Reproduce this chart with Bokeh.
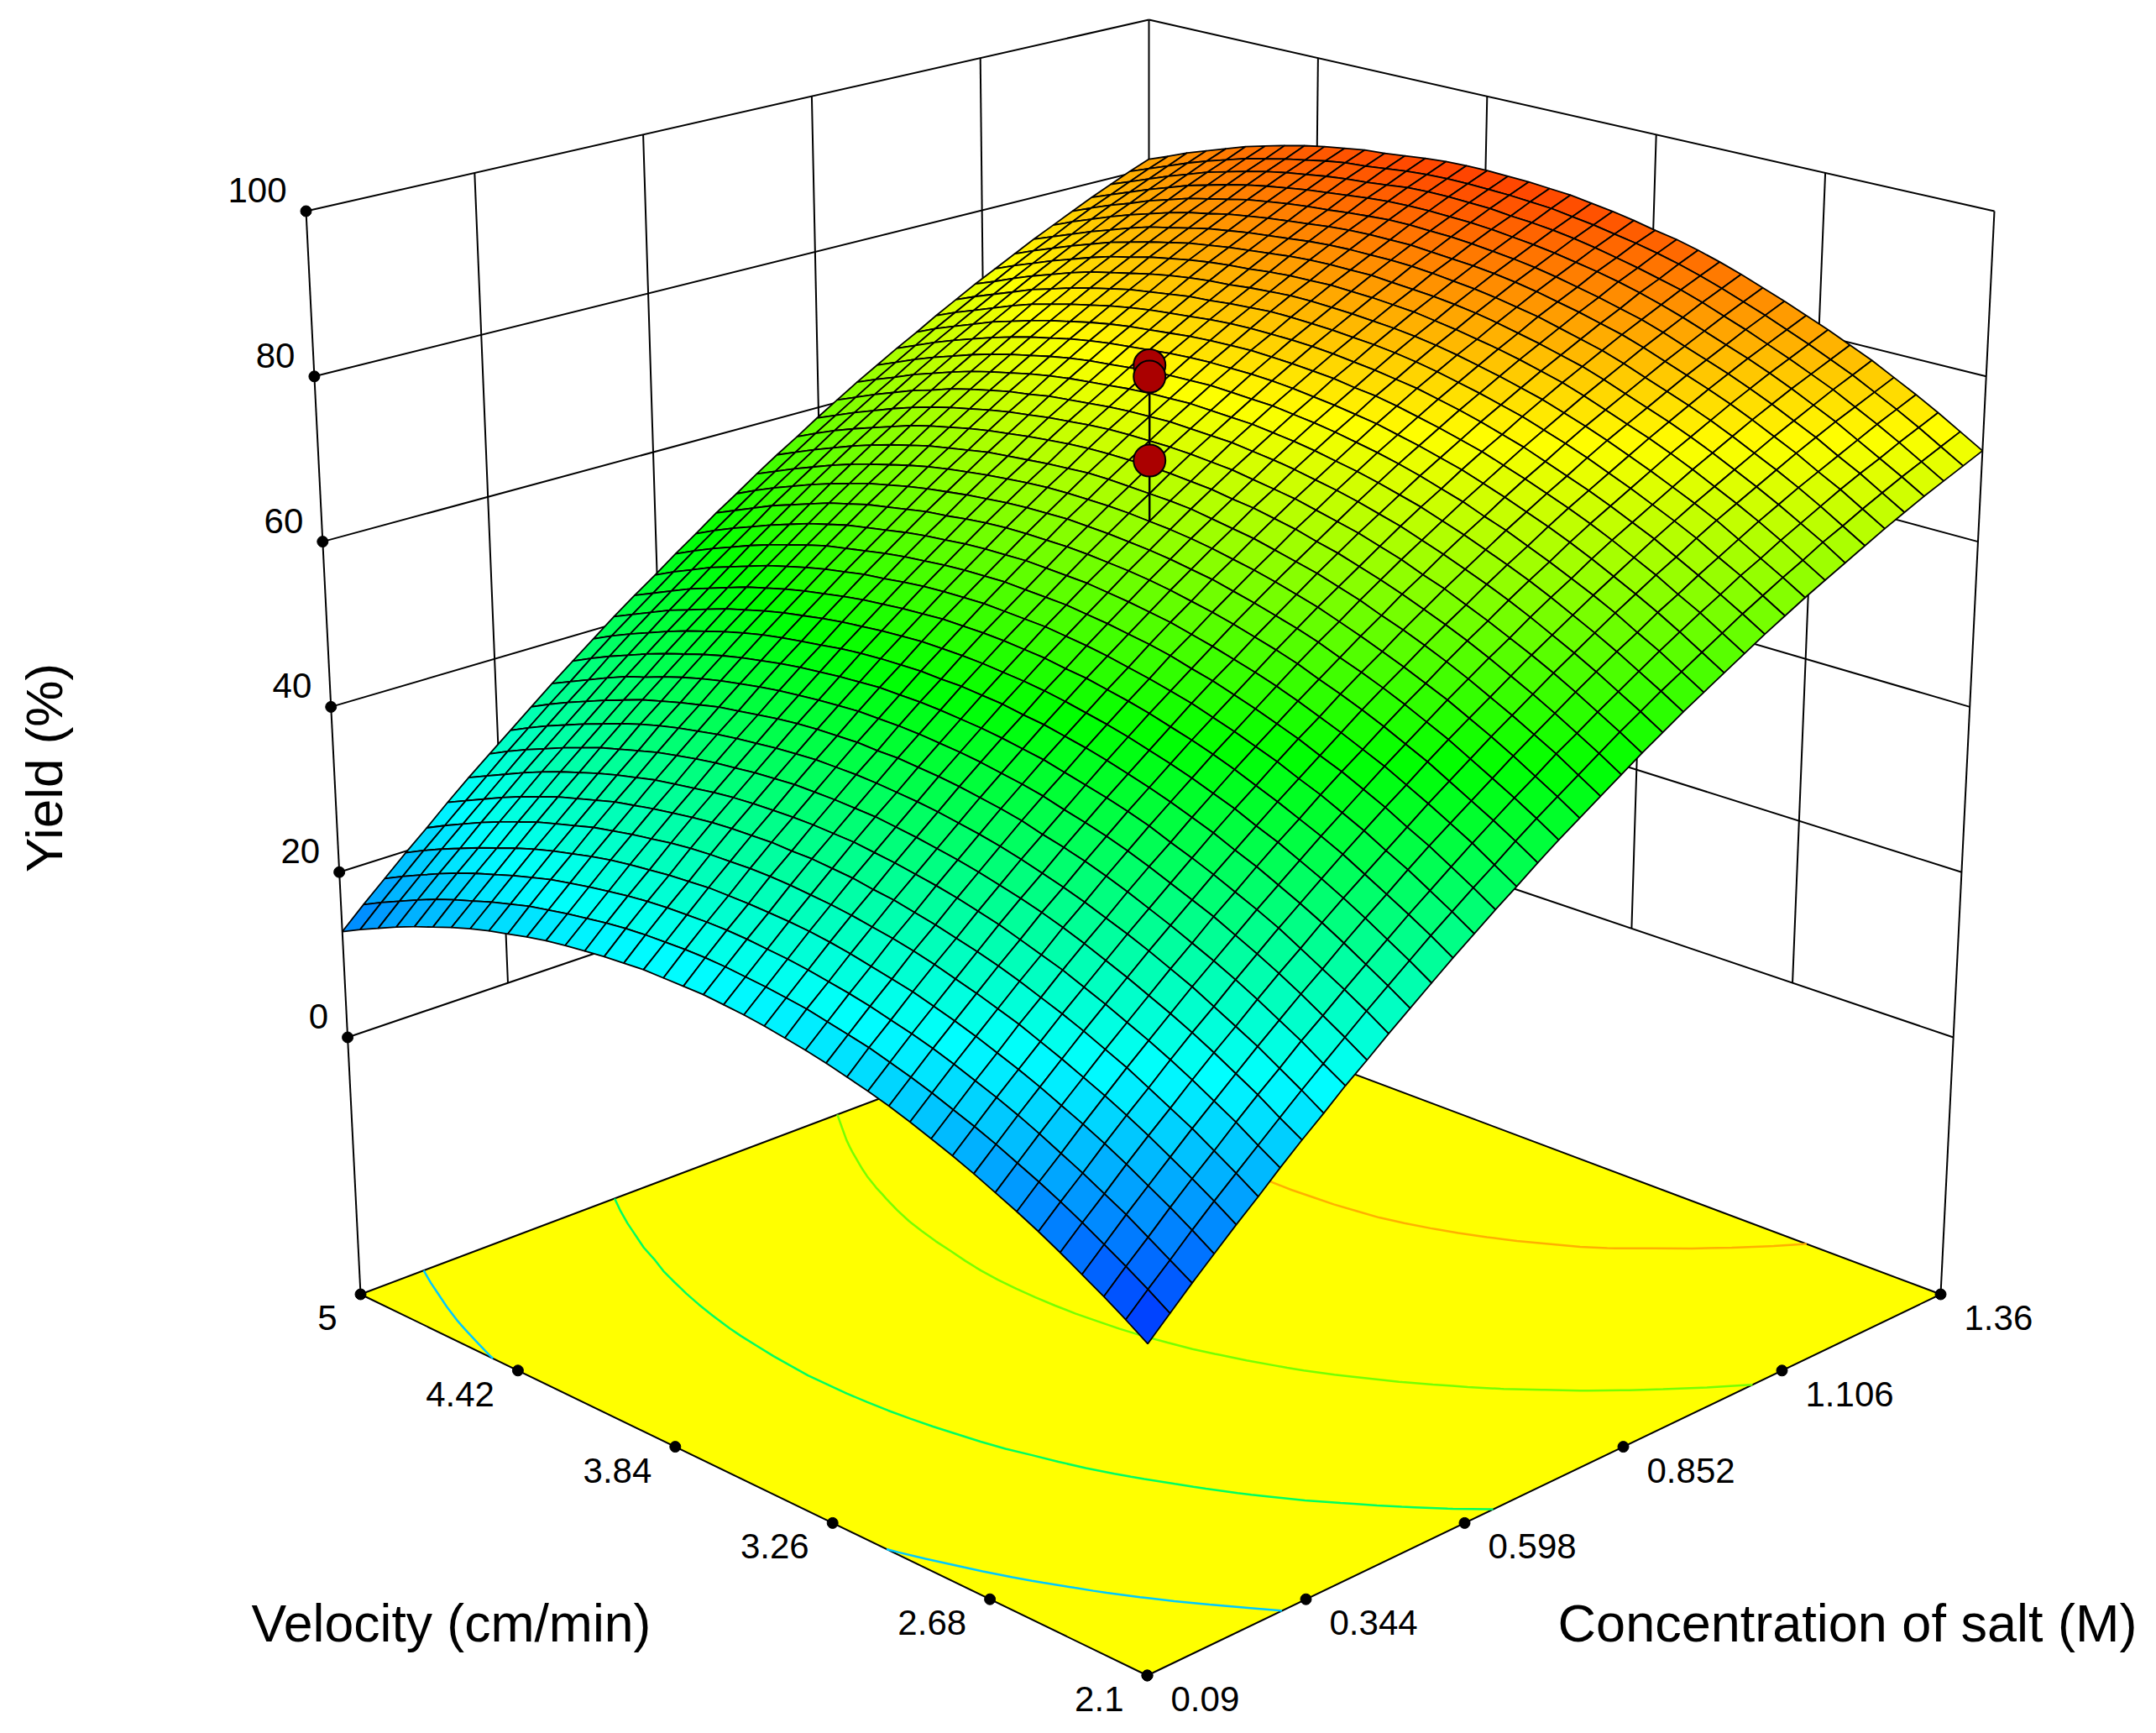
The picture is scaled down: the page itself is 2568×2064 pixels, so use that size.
from math import pi
import numpy as np
from bokeh.plotting import figure
from bokeh.models import Range1d, ColumnDataSource
from bokeh.core.properties import value
from bokeh.embed import file_html
from bokeh.resources import INLINE
import contourpy

velocity_ticks = [2.1, 2.68, 3.26, 3.84, 4.42, 5]
velocity_labels = ["2.1", "2.68", "3.26", "3.84", "4.42", "5"]
conc_ticks = [0.09, 0.344, 0.598, 0.852, 1.106, 1.36]
conc_labels = ["0.09", "0.344", "0.598", "0.852", "1.106", "1.36"]
yield_ticks = [0, 20, 40, 60, 80, 100]
design_points = [70.9, 81.1, 82.5]
contour_levels = [20, 40, 60, 80]
# estimated node values; rows: velocity 2.1 -> 5, columns: concentration 0.09 -> 1.36
yield_table = [
[5.5,7.8,10.1,12.3,14.5,16.6,18.8,20.9,22.9,25.0,26.9,28.9,30.8,32.7,34.6,36.4,38.2,39.9,41.7,43.4,45.0,46.6,48.2,49.8,51.3,52.8,54.2,55.6,57.0,58.4,59.7,61.0,62.2,63.4,64.6,65.8,66.9,68.0,69.0,70.0,71.0],
[7.1,9.4,11.6,13.9,16.1,18.2,20.3,22.4,24.5,26.5,28.5,30.5,32.4,34.3,36.2,38.0,39.8,41.5,43.3,45.0,46.6,48.2,49.8,51.4,52.9,54.4,55.8,57.2,58.6,60.0,61.3,62.6,63.8,65.1,66.2,67.4,68.5,69.6,70.6,71.6,72.6],
[8.6,10.9,13.1,15.4,17.6,19.7,21.9,24.0,26.0,28.1,30.0,32.0,33.9,35.8,37.7,39.5,41.3,43.1,44.8,46.5,48.1,49.8,51.3,52.9,54.4,55.9,57.4,58.8,60.2,61.5,62.9,64.1,65.4,66.6,67.8,69.0,70.1,71.1,72.2,73.2,74.2],
[10.0,12.3,14.6,16.8,19.0,21.2,23.3,25.4,27.5,29.5,31.5,33.4,35.4,37.3,39.1,41.0,42.8,44.5,46.2,47.9,49.6,51.2,52.8,54.4,55.9,57.4,58.8,60.3,61.6,63.0,64.3,65.6,66.9,68.1,69.3,70.4,71.5,72.6,73.7,74.7,75.7],
[11.4,13.7,15.9,18.2,20.4,22.5,24.7,26.8,28.8,30.9,32.9,34.8,36.8,38.7,40.5,42.3,44.1,45.9,47.6,49.3,51.0,52.6,54.2,55.8,57.3,58.8,60.3,61.7,63.1,64.4,65.8,67.1,68.3,69.5,70.7,71.9,73.0,74.1,75.1,76.1,77.1],
[12.7,15.0,17.2,19.5,21.7,23.8,26.0,28.1,30.1,32.2,34.2,36.2,38.1,40.0,41.9,43.7,45.5,47.2,49.0,50.7,52.3,53.9,55.5,57.1,58.6,60.1,61.6,63.0,64.4,65.8,67.1,68.4,69.6,70.8,72.0,73.2,74.3,75.4,76.5,77.5,78.5],
[13.9,16.2,18.4,20.7,22.9,25.1,27.2,29.3,31.4,33.4,35.4,37.4,39.3,41.2,43.1,44.9,46.7,48.5,50.2,51.9,53.6,55.2,56.8,58.3,59.9,61.4,62.8,64.3,65.7,67.0,68.3,69.6,70.9,72.1,73.3,74.5,75.6,76.7,77.7,78.7,79.7],
[15.0,17.3,19.6,21.8,24.0,26.2,28.3,30.4,32.5,34.5,36.6,38.5,40.5,42.4,44.2,46.1,47.9,49.6,51.4,53.1,54.7,56.4,58.0,59.5,61.1,62.6,64.0,65.5,66.9,68.2,69.5,70.8,72.1,73.3,74.5,75.7,76.8,77.9,78.9,79.9,80.9],
[16.1,18.4,20.7,22.9,25.1,27.3,29.4,31.5,33.6,35.6,37.6,39.6,41.5,43.4,45.3,47.1,48.9,50.7,52.5,54.2,55.8,57.5,59.1,60.6,62.2,63.7,65.1,66.6,68.0,69.3,70.6,71.9,73.2,74.4,75.6,76.8,77.9,79.0,80.0,81.0,82.0],
[17.1,19.4,21.7,23.9,26.1,28.3,30.4,32.5,34.6,36.6,38.6,40.6,42.6,44.5,46.3,48.2,50.0,51.7,53.5,55.2,56.8,58.5,60.1,61.7,63.2,64.7,66.2,67.6,69.0,70.3,71.7,73.0,74.2,75.4,76.6,77.8,78.9,80.0,81.1,82.1,83.1],
[18.0,20.3,22.6,24.8,27.1,29.2,31.4,33.5,35.5,37.6,39.6,41.5,43.5,45.4,47.3,49.1,50.9,52.7,54.4,56.1,57.8,59.4,61.1,62.6,64.2,65.7,67.1,68.6,70.0,71.3,72.7,74.0,75.2,76.4,77.6,78.8,79.9,81.0,82.1,83.1,84.1],
[18.9,21.2,23.5,25.7,27.9,30.1,32.2,34.4,36.4,38.5,40.5,42.5,44.4,46.3,48.2,50.0,51.8,53.6,55.4,57.1,58.7,60.4,62.0,63.6,65.1,66.6,68.1,69.5,70.9,72.3,73.6,74.9,76.2,77.4,78.6,79.8,80.9,82.0,83.1,84.1,85.1],
[19.7,22.0,24.3,26.5,28.7,30.9,33.0,35.2,37.2,39.3,41.3,43.3,45.2,47.1,49.0,50.8,52.6,54.4,56.2,57.9,59.6,61.2,62.8,64.4,66.0,67.5,68.9,70.4,71.8,73.1,74.5,75.8,77.1,78.3,79.5,80.7,81.8,82.9,84.0,85.0,86.0],
[20.4,22.7,25.0,27.2,29.4,31.6,33.8,35.9,37.9,40.0,42.0,44.0,45.9,47.8,49.7,51.6,53.4,55.1,56.9,58.6,60.3,62.0,63.6,65.2,66.7,68.2,69.7,71.1,72.5,73.9,75.2,76.5,77.8,79.0,80.2,81.4,82.5,83.7,84.7,85.8,86.8],
[21.0,23.4,25.6,27.9,30.1,32.2,34.4,36.5,38.6,40.6,42.6,44.6,46.6,48.5,50.4,52.2,54.0,55.8,57.6,59.3,61.0,62.6,64.2,65.8,67.4,68.9,70.4,71.8,73.2,74.6,75.9,77.2,78.5,79.7,80.9,82.1,83.2,84.4,85.4,86.5,87.5],
[21.6,23.9,26.2,28.4,30.7,32.8,35.0,37.1,39.2,41.3,43.3,45.2,47.2,49.1,51.0,52.8,54.7,56.4,58.2,59.9,61.6,63.2,64.9,66.4,68.0,69.5,71.0,72.4,73.8,75.2,76.5,77.8,79.1,80.3,81.6,82.7,83.8,85.0,86.0,87.1,88.0],
[22.1,24.4,26.7,28.9,31.2,33.3,35.5,37.6,39.7,41.8,43.8,45.8,47.7,49.6,51.5,53.3,55.2,57.0,58.7,60.5,62.1,63.8,65.4,67.0,68.5,70.0,71.5,73.0,74.4,75.8,77.1,78.4,79.6,80.9,82.1,83.3,84.4,85.5,86.6,87.6,88.6],
[22.5,24.9,27.1,29.4,31.6,33.8,35.9,38.0,40.1,42.2,44.2,46.2,48.2,50.1,52.0,53.8,55.6,57.4,59.2,60.9,62.6,64.2,65.9,67.4,69.0,70.5,72.0,73.4,74.9,76.2,77.6,78.9,80.1,81.4,82.6,83.8,84.9,86.0,87.1,88.1,89.1],
[22.9,25.2,27.5,29.8,32.0,34.1,36.3,38.4,40.5,42.6,44.6,46.6,48.5,50.5,52.3,54.2,56.0,57.8,59.6,61.3,63.0,64.6,66.2,67.8,69.4,70.9,72.4,73.8,75.2,76.6,78.0,79.3,80.5,81.8,83.0,84.2,85.3,86.4,87.5,88.5,89.5],
[23.2,25.5,27.8,30.1,32.3,34.5,36.6,38.7,40.8,42.9,44.9,46.9,48.9,50.8,52.7,54.5,56.3,58.1,59.9,61.6,63.3,65.0,66.6,68.2,69.7,71.2,72.7,74.1,75.6,76.9,78.3,79.6,80.9,82.1,83.3,84.5,85.6,86.7,87.8,88.9,89.9],
[23.4,25.7,28.0,30.3,32.5,34.7,36.9,39.0,41.0,43.1,45.1,47.1,49.1,51.0,52.9,54.8,56.6,58.4,60.1,61.8,63.5,65.2,66.8,68.4,70.0,71.5,73.0,74.4,75.8,77.2,78.5,79.8,81.1,82.3,83.6,84.7,85.9,87.0,88.0,89.1,90.1],
[23.6,25.9,28.2,30.4,32.7,34.9,37.0,39.1,41.2,43.3,45.3,47.3,49.3,51.2,53.1,54.9,56.7,58.5,60.3,62.0,63.7,65.3,67.0,68.6,70.1,71.6,73.1,74.6,76.0,77.4,78.7,80.0,81.3,82.5,83.8,84.9,86.1,87.2,88.3,89.3,90.3],
[23.6,26.0,28.3,30.5,32.8,34.9,37.1,39.2,41.3,43.3,45.4,47.4,49.3,51.3,53.2,55.0,56.8,58.6,60.4,62.1,63.8,65.4,67.1,68.7,70.2,71.7,73.2,74.7,76.1,77.5,78.8,80.1,81.4,82.7,83.9,85.1,86.2,87.3,88.4,89.4,90.4],
[23.6,26.0,28.3,30.5,32.8,35.0,37.1,39.2,41.3,43.4,45.4,47.4,49.4,51.3,53.2,55.1,56.9,58.7,60.4,62.2,63.8,65.5,67.1,68.7,70.3,71.8,73.3,74.7,76.2,77.5,78.9,80.2,81.5,82.7,83.9,85.1,86.3,87.4,88.5,89.5,90.5],
[23.6,25.9,28.2,30.5,32.7,34.9,37.0,39.2,41.3,43.3,45.4,47.4,49.3,51.3,53.2,55.0,56.8,58.6,60.4,62.1,63.8,65.5,67.1,68.7,70.2,71.7,73.2,74.7,76.1,77.5,78.9,80.2,81.4,82.7,83.9,85.1,86.3,87.4,88.5,89.5,90.5],
[23.4,25.8,28.1,30.3,32.6,34.8,36.9,39.0,41.1,43.2,45.2,47.2,49.2,51.1,53.0,54.9,56.7,58.5,60.3,62.0,63.7,65.3,67.0,68.6,70.1,71.6,73.1,74.6,76.0,77.4,78.7,80.0,81.3,82.6,83.8,85.0,86.1,87.3,88.4,89.4,90.4],
[23.2,25.6,27.9,30.1,32.4,34.6,36.7,38.8,40.9,43.0,45.0,47.0,49.0,50.9,52.8,54.7,56.5,58.3,60.1,61.8,63.5,65.1,66.8,68.4,69.9,71.4,72.9,74.4,75.8,77.2,78.5,79.8,81.1,82.4,83.6,84.8,85.9,87.1,88.1,89.2,90.2],
[22.9,25.3,27.6,29.8,32.1,34.3,36.4,38.5,40.6,42.7,44.7,46.7,48.7,50.6,52.5,54.4,56.2,58.0,59.8,61.5,63.2,64.8,66.5,68.1,69.6,71.1,72.6,74.1,75.5,76.9,78.2,79.5,80.8,82.1,83.3,84.5,85.6,86.8,87.8,88.9,89.9],
[22.6,24.9,27.2,29.5,31.7,33.9,36.0,38.2,40.3,42.3,44.4,46.4,48.3,50.3,52.2,54.0,55.9,57.7,59.4,61.2,62.9,64.5,66.2,67.8,69.3,70.8,72.3,73.8,75.2,76.6,78.0,79.3,80.6,81.8,83.0,84.2,85.4,86.5,87.6,88.6,89.6],
[22.2,24.5,26.8,29.1,31.3,33.5,35.6,37.8,39.9,41.9,44.0,46.0,47.9,49.9,51.8,53.7,55.5,57.3,59.1,60.8,62.5,64.2,65.8,67.4,69.0,70.5,72.0,73.5,74.9,76.3,77.6,79.0,80.3,81.5,82.7,83.9,85.1,86.2,87.3,88.4,89.4],
[21.7,24.0,26.3,28.6,30.8,33.0,35.2,37.3,39.4,41.5,43.5,45.5,47.5,49.4,51.3,53.2,55.0,56.8,58.6,60.4,62.1,63.7,65.4,67.0,68.5,70.1,71.6,73.1,74.5,75.9,77.2,78.6,79.9,81.1,82.3,83.5,84.7,85.8,86.9,88.0,89.0],
[21.1,23.5,25.8,28.0,30.3,32.5,34.6,36.8,38.9,40.9,43.0,45.0,47.0,48.9,50.8,52.7,54.5,56.3,58.1,59.9,61.6,63.2,64.9,66.5,68.1,69.6,71.1,72.6,74.0,75.4,76.8,78.1,79.4,80.7,81.9,83.1,84.3,85.4,86.5,87.5,88.6],
[20.5,22.8,25.1,27.4,29.6,31.8,34.0,36.1,38.3,40.3,42.4,44.4,46.4,48.3,50.2,52.1,54.0,55.8,57.6,59.3,61.0,62.7,64.3,65.9,67.5,69.0,70.5,72.0,73.4,74.8,76.2,77.5,78.9,80.1,81.3,82.5,83.7,84.9,86.0,87.0,88.1],
[19.8,22.1,24.4,26.7,28.9,31.1,33.3,35.4,37.6,39.6,41.7,43.7,45.7,47.6,49.5,51.4,53.3,55.1,56.9,58.7,60.3,62.0,63.7,65.3,66.9,68.4,69.9,71.4,72.8,74.2,75.6,76.9,78.2,79.5,80.7,82.0,83.1,84.3,85.4,86.4,87.5],
[19.0,21.3,23.6,25.9,28.2,30.4,32.5,34.7,36.8,38.9,40.9,42.9,44.9,46.9,48.8,50.7,52.5,54.4,56.2,57.9,59.6,61.3,63.0,64.6,66.2,67.7,69.2,70.7,72.1,73.5,74.9,76.3,77.6,78.8,80.1,81.3,82.5,83.6,84.7,85.8,86.8],
[18.1,20.5,22.8,25.0,27.3,29.5,31.7,33.8,35.9,38.0,40.0,42.1,44.1,46.0,47.9,49.8,51.7,53.5,55.3,57.1,58.8,60.5,62.1,63.8,65.3,66.9,68.4,69.9,71.3,72.8,74.1,75.5,76.8,78.1,79.3,80.5,81.7,82.9,84.0,85.0,86.1],
[17.2,19.6,21.9,24.1,26.4,28.6,30.8,32.9,35.0,37.1,39.2,41.2,43.2,45.1,47.0,48.9,50.8,52.6,54.4,56.2,57.9,59.6,61.2,62.9,64.5,66.0,67.5,69.0,70.5,71.9,73.3,74.6,75.9,77.2,78.4,79.7,80.9,82.0,83.1,84.2,85.2],
[16.2,18.6,20.9,23.1,25.4,27.6,29.8,31.9,34.0,36.1,38.2,40.2,42.2,44.2,46.1,48.0,49.8,51.6,53.5,55.2,56.9,58.6,60.3,61.9,63.5,65.1,66.6,68.1,69.5,70.9,72.3,73.7,75.0,76.3,77.5,78.8,79.9,81.1,82.2,83.3,84.3],
[15.1,17.5,19.8,22.1,24.3,26.5,28.7,30.9,33.0,35.1,37.1,39.2,41.2,43.1,45.0,46.9,48.8,50.6,52.4,54.2,55.9,57.6,59.3,60.9,62.5,64.0,65.6,67.1,68.5,69.9,71.3,72.7,74.0,75.3,76.5,77.8,79.0,80.1,81.2,82.3,83.4],
[14.0,16.4,18.7,21.0,23.2,25.4,27.6,29.8,31.9,34.0,36.0,38.1,40.1,42.0,43.9,45.8,47.7,49.5,51.3,53.1,54.8,56.5,58.2,59.8,61.4,63.0,64.5,66.0,67.5,68.9,70.3,71.6,73.0,74.3,75.5,76.8,78.0,79.1,80.2,81.3,82.3],
[12.8,15.2,17.5,19.8,22.0,24.3,26.5,28.6,30.7,32.8,34.9,36.9,38.9,40.9,42.8,44.6,46.5,48.3,50.2,51.9,53.7,55.4,57.0,58.7,60.3,61.9,63.4,64.9,66.3,67.8,69.2,70.6,71.9,73.2,74.5,75.7,76.9,78.1,79.2,80.3,81.3],
]

F0 = np.array([1366., 1995.]); L0 = np.array([429., 1541.]); R0 = np.array([2311., 1541.]); B0 = np.array([1368., 1187.])
F1 = np.array([1368., 580.]); L1 = np.array([364., 251.]); R1 = np.array([2375., 251.]); B1 = np.array([1368., 23.])
ZB = -31.1
A = 0.10
A_FLOOR_W = 0.04

def warp(t, a=A):
    return t * (1 + a) / (1 + a * t)

def proj(u, w, z):
    zf = (z - ZB) / (100 - ZB)
    a = (1-u)*(1-w); b = u*(1-w); c = (1-u)*w; d = u*w
    fl = a*F0 + b*L0 + c*R0 + d*B0
    tp = a*F1 + b*L1 + c*R1 + d*B1
    return fl + zf * (tp - fl)

def rainbow(z):
    t = min(max(0.0105 * z - 0.013, 0), 1)
    stops = [(0, 0, 255), (0, 255, 255), (0, 255, 0), (255, 255, 0), (255, 0, 0)]
    k = min(int(t * 4), 3); f = t * 4 - k
    c = [int(round(stops[k][i] + f * (stops[k+1][i] - stops[k][i]))) for i in range(3)]
    return "#%02x%02x%02x" % tuple(c)

p = figure(width=2552, height=2048, x_range=Range1d(0, 2552), y_range=Range1d(2048, 0),
           output_backend="svg", toolbar_location=None, min_border=0, outline_line_color=None)
p.xaxis.visible = False; p.yaxis.visible = False; p.grid.visible = False

Z = np.array(yield_table, dtype=float)
nu, nw = Z.shape
def seg(a, b, lw=2):
    p.line([a[0], b[0]], [a[1], b[1]], line_color="black", line_width=lw)

# floor
xs = [proj(*c, ZB) for c in [(0,0),(1,0),(1,1),(0,1)]]
p.patch([q[0] for q in xs], [q[1] for q in xs], fill_color="#ffff00", line_color="black", line_width=2)

# contours on floor
U = np.array([warp(i/(nu-1)) for i in range(nu)]); W = np.array([warp(j/(nw-1)) for j in range(nw)])
WF = np.array([warp(j/(nw-1), A_FLOOR_W) for j in range(nw)])
fx = np.zeros(Z.shape); fy = np.zeros(Z.shape)
for i in range(nu):
    for j in range(nw):
        fx[i, j], fy[i, j] = proj(U[i], WF[j], ZB)
cg = contourpy.contour_generator(fx, fy, Z)
for lev in contour_levels:
    for line in cg.lines(lev):
        p.line(line[:, 0], line[:, 1], line_color=rainbow(lev), line_width=2.5)

# walls
for z in yield_ticks:
    seg(proj(1, 0, z), proj(1, 1, z)); seg(proj(0, 1, z), proj(1, 1, z))
for k in range(1, 5):
    t = k / 5
    seg(proj(1, t, 0), proj(1, t, 100)); seg(proj(t, 1, 0), proj(t, 1, 100))
seg(proj(1, 1, 0), proj(1, 1, 100)); seg(proj(1, 0, ZB), proj(1, 0, 100)); seg(proj(0, 1, ZB), proj(0, 1, 100))

# surface, far cells first
cx, cy, cc = [], [], []
for i in range(nu-2, -1, -1):
    for j in range(nw-2, -1, -1):
        nodes = [(i, j), (i+1, j), (i+1, j+1), (i, j+1)]
        pts = [proj(U[a], W[b], Z[a, b]) for a, b in nodes]
        cx.append([q[0] for q in pts]); cy.append([q[1] for q in pts])
        cc.append(rainbow(np.mean([Z[a, b] for a, b in nodes])))
p.patches("x", "y", fill_color="c", line_color="black", line_width=1.8,
          source=ColumnDataSource(dict(x=cx, y=cy, c=cc)))

# design points
base = proj(U[nu//2], W[nw//2], Z[nu//2, nw//2])
tops = [proj(U[nu//2], W[nw//2], z) for z in design_points]
seg(base, min(tops, key=lambda q: q[1]), 2.5)
pts = sorted(tops, key=lambda q: q[1])
p.scatter([q[0] for q in pts], [q[1] for q in pts], size=38, fill_color="#aa0000", line_color="black", line_width=2)

# ticks and labels
def label(xs, ys, texts, align, size="42px", angle=0, baseline="middle"):
    p.text(xs, ys, text=texts, text_font=value("Liberation Sans"), text_font_size=value(size),
           text_align=align, text_baseline=baseline, text_color="black", angle=angle)

pv = [proj((v-2.1)/2.9, 0, ZB) for v in velocity_ticks]
pc = [proj(0, (c-0.09)/1.27, ZB) for c in conc_ticks]
pz = [proj(1, 0, z) for z in yield_ticks]
for pts_ in (pv, pc, pz):
    p.scatter([q[0] for q in pts_], [q[1] for q in pts_], size=13, fill_color="black", line_color="black")
label([q[0]-28 for q in pv], [q[1]+28 for q in pv], velocity_labels, "right")
label([q[0]+28 for q in pc], [q[1]+28 for q in pc], conc_labels, "left")
label([q[0]-23 for q in pz], [q[1]-25 for q in pz], [str(z) for z in yield_ticks], "right")

label([537], [1932], ["Velocity (cm/min)"], "center", "62.5px")
label([2200], [1932], ["Concentration of salt (M)"], "center", "63px")
label([52], [914], ["Yield (%)"], "center", "62px", angle=pi/2)

open("out.html", "w").write(file_html(p, INLINE))
